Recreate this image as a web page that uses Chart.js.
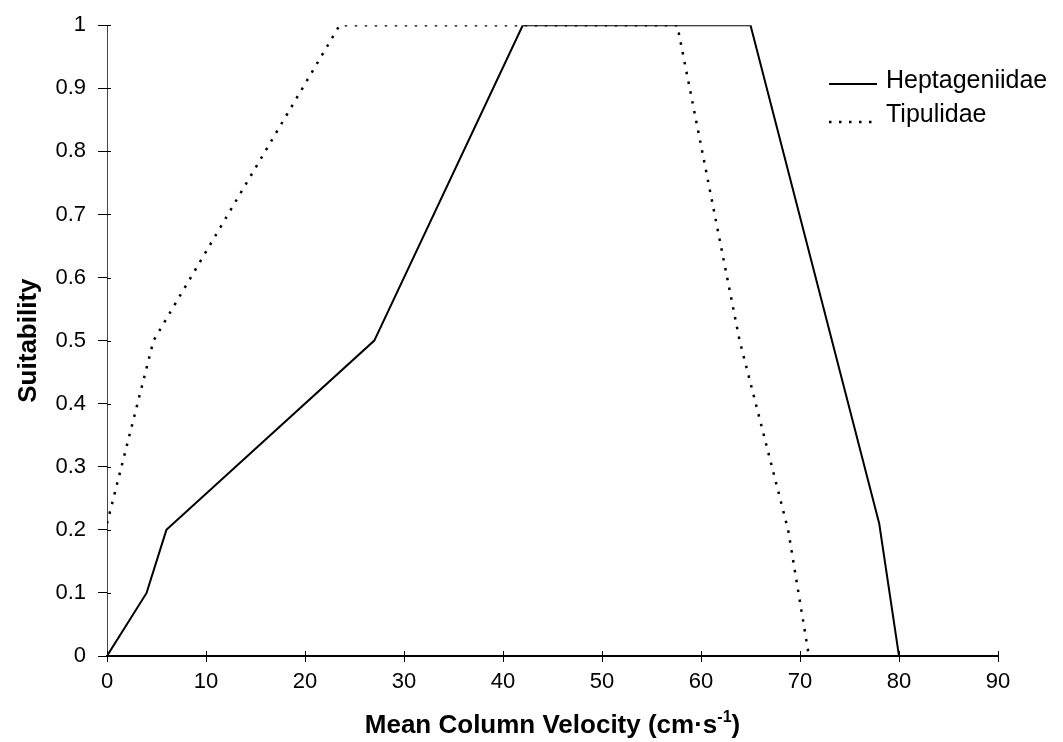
<!DOCTYPE html>
<html><head><meta charset="utf-8">
<script src="https://cdn.jsdelivr.net/npm/chart.js@4/dist/chart.umd.min.js"></script>
<style>html,body{margin:0;padding:0;background:#fff}#wrap{width:1063px;height:742px;position:relative}</style>
</head><body><div id="wrap"><canvas id="c"></canvas></div>
<script>
// ---- data ----
const seriesNames = ['Heptageniidae', 'Tipulidae'];
const heptX = [0, 4, 6, 27, 42, 65, 78, 80];
const heptY = [0, 0.1, 0.2, 0.5, 1, 1, 0.21, 0];
const tipX = [0, 4.7, 23.5, 57.6, 63.9, 68.8, 70.9];
const tipY = [0.21, 0.5, 1, 1, 0.5, 0.2, 0];
const xTickLabels = ['0','10','20','30','40','50','60','70','80','90'];
const yTickLabels = ['0','0.1','0.2','0.3','0.4','0.5','0.6','0.7','0.8','0.9','1'];
const xTitleMain = 'Mean Column Velocity (cm\u00B7s';
const xTitleSup = '-1';
const xTitleEnd = ')';
const yTitle = 'Suitability';

// ---- layout / style ----
const FONT = '"Liberation Sans", Arial, sans-serif';
const PLOT = {left:107, top:24, right:998, bottom:656};
const W = 1063, H = 742;

const toPts = (xs, ys) => xs.map((x, i) => ({x: x, y: ys[i]}));

const decor = {
  id: 'decor',
  afterDraw(chart) {
    const ctx = chart.ctx;
    const xs = chart.scales.x, ys = chart.scales.y;
    const ca = chart.chartArea;
    ctx.save();
    // inner tick marks (ticks cross the axes)
    ctx.strokeStyle = '#000';
    ctx.lineWidth = 1;
    xs.ticks.forEach(t => {
      const p = Math.round(xs.getPixelForValue(t.value)) + 0.5;
      ctx.beginPath(); ctx.moveTo(p, ca.bottom); ctx.lineTo(p, ca.bottom - 5); ctx.stroke();
    });
    ys.ticks.forEach(t => {
      const p = Math.round(ys.getPixelForValue(t.value)) + 0.5;
      ctx.beginPath(); ctx.moveTo(ca.left, p); ctx.lineTo(ca.left + 4, p); ctx.stroke();
    });
    // x title with superscript
    ctx.fillStyle = '#000';
    ctx.textBaseline = 'alphabetic';
    const fMain = 'bold 26px ' + FONT, fSup = 'bold 16px ' + FONT;
    ctx.font = fMain;
    const w1 = ctx.measureText(xTitleMain).width;
    const w3 = ctx.measureText(xTitleEnd).width;
    ctx.font = fSup;
    const w2 = ctx.measureText(xTitleSup).width;
    const total = w1 + w2 + w3;
    let x0 = (ca.left + ca.right) / 2 - total / 2;
    const by = 733;
    ctx.textAlign = 'left';
    ctx.font = fMain; ctx.fillText(xTitleMain, x0, by);
    ctx.font = fSup; ctx.fillText(xTitleSup, x0 + w1, by - 11);
    ctx.font = fMain; ctx.fillText(xTitleEnd, x0 + w1 + w2, by);
    // y title
    ctx.save();
    ctx.translate(36, (ca.top + ca.bottom) / 2);
    ctx.rotate(-Math.PI / 2);
    ctx.textAlign = 'center';
    ctx.font = fMain;
    ctx.fillText(yTitle, 0, 0);
    ctx.restore();
    // legend
    const ds = chart.data.datasets;
    const rows = [84, 122];
    ctx.font = '25px ' + FONT;
    ctx.textAlign = 'left';
    ds.forEach((d, i) => {
      const y = rows[i];
      ctx.save();
      ctx.strokeStyle = d.borderColor;
      ctx.lineWidth = d.borderWidth;
      ctx.setLineDash(d.borderDash || []);
      ctx.beginPath(); ctx.moveTo(829, y); ctx.lineTo(877, y); ctx.stroke();
      ctx.restore();
      ctx.fillStyle = '#000';
      ctx.fillText(d.label, 886, y + (i === 0 ? 4 : 0));
    });
    ctx.restore();
  }
};

new Chart(document.getElementById('c'), {
  type: 'line',
  data: {
    datasets: [
      {label: seriesNames[0], data: toPts(heptX, heptY), borderColor: '#000', borderWidth: 2,
       pointRadius: 0, tension: 0, fill: false},
      {label: seriesNames[1], data: toPts(tipX, tipY), borderColor: '#000', borderWidth: 2.5,
       borderDash: [2.5, 7.5], pointRadius: 0, tension: 0, fill: false}
    ]
  },
  options: {
    responsive: true, maintainAspectRatio: false, animation: false,
    layout: {padding: {left: 0, top: PLOT.top, right: W - PLOT.right, bottom: 0}},
    plugins: {legend: {display: false}, tooltip: {enabled: false}},
    scales: {
      x: {
        type: 'linear', min: 0, max: 90,
        afterFit: s => { s.height = H - PLOT.bottom; },
        ticks: {stepSize: 10, color: '#000', font: {family: FONT, size: 22}, padding: 7,
                maxRotation: 0, autoSkip: false,
                callback: (v, i) => xTickLabels[i]},
        grid: {drawOnChartArea: false, drawTicks: true, tickLength: 6, color: '#000', lineWidth: 1},
        border: {display: true, color: '#000', width: 2}
      },
      y: {
        type: 'linear', min: 0, max: 1,
        afterFit: s => { s.width = PLOT.left; },
        ticks: {stepSize: 0.1, color: '#000', font: {family: FONT, size: 22}, padding: 12,
                autoSkip: false, callback: (v, i) => yTickLabels[i]},
        grid: {drawOnChartArea: false, drawTicks: true, tickLength: 9, color: '#000', lineWidth: 1},
        border: {display: true, color: '#444', width: 1}
      }
    }
  },
  plugins: [decor]
});
</script>
</body></html>
